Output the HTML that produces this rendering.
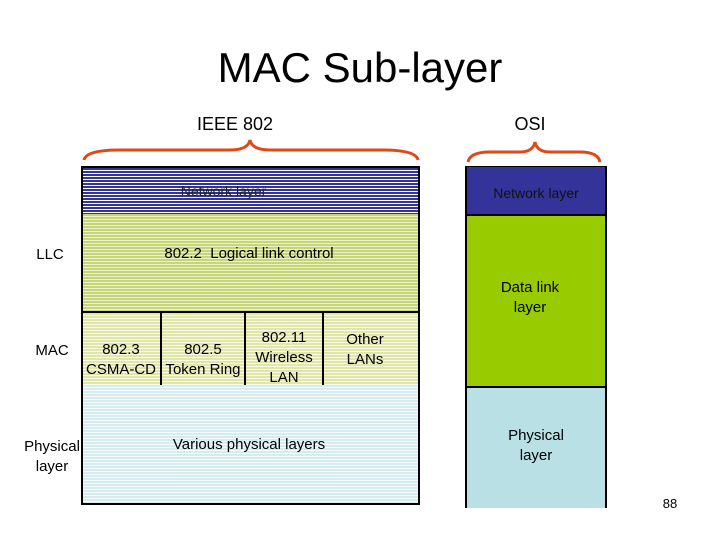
<!DOCTYPE html>
<html><head><style>
body{margin:0;background:#fff;}
.w{position:relative;width:720px;height:540px;overflow:hidden;font-family:"Liberation Sans",sans-serif;color:#000;}
.a{position:absolute;}
.t{position:absolute;text-align:center;line-height:20px;font-size:15px;}
.bx{position:absolute;box-sizing:border-box;border:2px solid #000;}
</style></head><body><div class="w">
<div class="t" style="left:0;width:720px;top:44px;font-size:42px;line-height:48px;">MAC Sub-layer</div>
<div class="t" style="left:160px;width:150px;top:114px;font-size:18px;">IEEE 802</div>
<div class="t" style="left:480px;width:100px;top:114px;font-size:18px;">OSI</div>
<svg class="a" style="left:0;top:0" width="720" height="540">
<path d="M84,160 Q86,150 120,150 L230,150 Q248,150 250,140 Q252,150 270,150 L382,150 Q416,150 418,160" fill="none" stroke="#e04818" stroke-width="3"/>
<path d="M468,162 Q470,152 490,152 L520,152 Q533,152 535,142 Q537,152 550,152 L580,152 Q598,152 600,162" fill="none" stroke="#e04818" stroke-width="3"/>
</svg>
<div class="bx" style="left:81px;top:166px;width:339px;height:50px;background:repeating-linear-gradient(#333399 0 2px,#fff 2px 3px);"></div>
<div class="t" style="left:81px;width:285px;top:181px;font-size:14px;color:#222">Network layer</div>
<div class="bx" style="left:81px;top:214px;width:339px;height:99px;border-top:none;background:repeating-linear-gradient(#c6d47a 0 2px,#eef2c8 2px 3px);"></div>
<div class="t" style="left:81px;width:336px;top:244px;">802.2&nbsp; Logical link control</div>
<div class="bx" style="left:81px;top:311px;width:339px;height:76px;background:repeating-linear-gradient(#dfe6a8 0 2px,#fafbe8 2px 3px);"></div>
<div class="a" style="left:160px;top:311px;width:2px;height:74px;background:#000"></div>
<div class="a" style="left:244px;top:311px;width:2px;height:74px;background:#000"></div>
<div class="a" style="left:322px;top:311px;width:2px;height:74px;background:#000"></div>
<div class="t" style="left:80px;width:82px;top:340px;">802.3<br>CSMA-CD</div>
<div class="t" style="left:160px;width:86px;top:340px;">802.5<br>Token Ring</div>
<div class="t" style="left:244px;width:80px;top:328px;">802.11<br>Wireless<br>LAN</div>
<div class="t" style="left:322px;width:86px;top:330px;">Other<br>LANs</div>
<div class="bx" style="left:81px;top:385px;width:339px;height:120px;border-top:none;background:repeating-linear-gradient(#d6ecf0 0 2px,#f6fbfc 2px 3px);"></div>
<div class="t" style="left:81px;width:336px;top:435px;">Various physical layers</div>
<div class="t" style="left:20px;width:60px;top:245px;">LLC</div>
<div class="t" style="left:20px;width:64px;top:341px;">MAC</div>
<div class="t" style="left:20px;width:64px;top:437px;">Physical<br>layer</div>
<div class="bx" style="left:465px;top:166px;width:142px;height:50px;background:#333399;border-width:1px 2px 2px 2px"></div>
<div class="t" style="left:465px;width:142px;top:183px;font-size:14px;color:#111">Network layer</div>
<div class="bx" style="left:465px;top:214px;width:142px;height:174px;background:#99cc00;"></div>
<div class="t" style="left:465px;width:130px;top:278px;">Data link<br>layer</div>
<div class="a" style="left:465px;top:388px;width:142px;height:120px;background:#b9e0e5;box-sizing:border-box;border-left:2px solid #000;border-right:2px solid #000;"></div>
<div class="t" style="left:465px;width:142px;top:426px;">Physical<br>layer</div>
<div class="t" style="left:650px;width:40px;top:494px;font-size:13px;">88</div>
</div></body></html>
